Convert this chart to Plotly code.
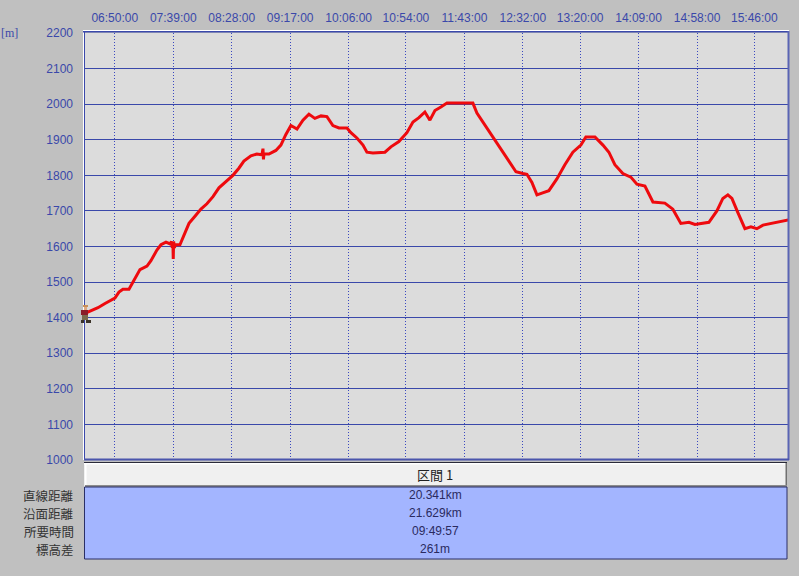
import plotly.graph_objects as go

W, H = 799, 576
L, R, T, B = 84, 788, 33, 460

minutes = [0,5,10.9,16.8,21.8,25.1,28.5,31.8,36.9,41.9,46.1,52,55.3,60.3,63.7,67.9,71.5,72.5,73.2,73.7,74,74.3,75,75.6,79.6,83,87.2,92.2,97.2,102.2,107.3,112.3,117.3,124,129,133.2,139.1,144.1,148.3,149.2,149.6,150,154.2,160,164.2,168.4,172.6,177.7,182.7,187.7,192.7,197.8,202.8,207.8,212.9,219.6,222.9,227.9,233,236.3,241.3,251.4,256.4,263.1,269.8,274.9,279.9,284.9,289.1,293.3,298.3,303.4,313.4,325.1,328.5,333.5,340.2,348.6,357,361.2,367,370.4,374.6,378.8,383,388.8,395.5,402.2,408.9,415.6,419.8,427.4,434.1,439.1,444.1,450.8,457.5,462.6,469.3,476,486,492.7,499.4,506.2,511.2,522.9,529.6,534.6,538.8,542.2,547.2,553.1,558.1,563.1,568.2,574.9,590]
elevation = [1412,1420,1428,1440,1450,1455,1472,1480,1480,1510,1535,1545,1560,1590,1605,1612,1607,1614,1596,1612,1565,1614,1596,1605,1605,1630,1665,1685,1705,1720,1740,1765,1780,1800,1820,1840,1855,1860,1858,1875,1845,1860,1860,1870,1885,1915,1940,1930,1955,1972,1960,1967,1965,1940,1933,1933,1920,1905,1885,1865,1863,1865,1880,1895,1920,1950,1962,1978,1955,1982,1992,2003,2003,2003,1975,1950,1915,1875,1830,1810,1805,1803,1780,1745,1750,1757,1790,1830,1865,1885,1908,1908,1885,1865,1830,1805,1795,1775,1770,1725,1722,1705,1665,1668,1662,1668,1700,1735,1745,1735,1695,1650,1655,1650,1660,1665,1675]

time_ticks = [25,74,123,172,221,269,318,367,415,464,513,561]
time_labels = ["06:50:00","07:39:00","08:28:00","09:17:00","10:06:00","10:54:00","11:43:00","12:32:00","13:20:00","14:09:00","14:58:00","15:46:00"]
elev_ticks = list(range(1000, 2201, 100))

section_label = "区間 1"
row_labels = ["直線距離","沿面距離","所要時間","標高差"]
row_values = ["20.341km","21.629km","09:49:57","261m"]
row_y = [495,513,531,549]

BLUE = "#3a48aa"
def X(v): return (v - L) / (R - L)
def Y(v): return (B - v) / (B - T)

fig = go.Figure(go.Scatter(x=minutes, y=elevation, mode="lines",
    line=dict(color="#ee0a0e", width=3), hoverinfo="skip", cliponaxis=False))

shapes = []
def rect(x0, y0, x1, y1, fill, line=None, w=0, layer="above"):
    shapes.append(dict(type="rect", xref="paper", yref="paper", layer=layer,
        x0=X(x0), x1=X(x1), y0=Y(y0), y1=Y(y1), fillcolor=fill,
        line=dict(color=line or fill, width=w)))

# plot frame
rect(83, 30, 84, 460, "#ffffff", layer="below")
rect(83, 30, 789, 31, "#ffffff", layer="below")
rect(83, 31, 789, 32.5, BLUE)
rect(84, 31, 85, 460, BLUE)
rect(787.5, 31, 789.5, 460, "#5a64b4")
rect(84, 458.5, 789, 460.5, "#4a55ac")

# table
rect(84, 462, 787, 487, "#f0f0f0")
rect(84, 462, 787, 463, "#2a2a3a")
rect(84, 463, 787, 464.5, "#ffffff")
rect(85, 463, 86.5, 486, "#ffffff")
rect(785.5, 463, 787, 486, "#707070")
rect(85, 485, 787, 487, "#8c8c8c")
rect(84.5, 487, 787, 559, "#a3b5ff", line="#2a2f66", w=1)

# hiker icon
rect(83, 305, 88, 307, "#c8905a")
rect(84, 307, 87, 310, "#e0a880")
rect(81, 310, 88, 315, "#8a1c28")
rect(82, 315, 88, 320, "#7a6a4c")
rect(81, 320, 84, 323, "#3a3228")
rect(86, 320, 91, 323, "#3a3228")

notes = []
def text(x, y, s, color, size=12, anchor="center", family="Liberation Sans"):
    notes.append(dict(xref="paper", yref="paper", x=X(x), y=Y(y), text=s, showarrow=False,
        xanchor=anchor, yanchor="middle", font=dict(family=family, size=size, color=color)))

CJK = "Noto Sans CJK JP"
text(9, 33, "[m]", BLUE, size=12, family="Liberation Serif")
text(434.5, 474, section_label, "#222222", size=13, family=CJK)
for yy, lab, val in zip(row_y, row_labels, row_values):
    text(76, yy, lab, "#333333", size=12.5, anchor="right", family=CJK)
    text(435, yy, val, "#2a2a60", size=12)

fig.update_layout(
    width=W, height=H, autosize=False,
    margin=dict(l=L, r=W - R, t=T, b=H - B, pad=0),
    paper_bgcolor="#c0c0c0", plot_bgcolor="#dcdcdc", showlegend=False,
    shapes=shapes, annotations=notes,
    xaxis=dict(range=[-0.8, 589.2], side="top", tickmode="array", tickvals=time_ticks, ticktext=time_labels,
        tickfont=dict(family="Liberation Sans", size=12, color=BLUE), ticks="", ticklabelstandoff=8,
        showgrid=True, gridcolor="#3a48c0", griddash="1px,2px", gridwidth=1, zeroline=False, showline=False),
    yaxis=dict(range=[1000, 2200], tickmode="array", tickvals=elev_ticks,
        tickfont=dict(family="Liberation Sans", size=12, color=BLUE), ticks="", ticklabelstandoff=10,
        showgrid=True, gridcolor="#3a48aa", gridwidth=1, zeroline=False, showline=False),
)
fig.write_html("out.html", config=dict(displayModeBar=False),
               post_script="document.documentElement.style.margin='0';document.body.style.margin='0';document.body.style.background='#c0c0c0';")
